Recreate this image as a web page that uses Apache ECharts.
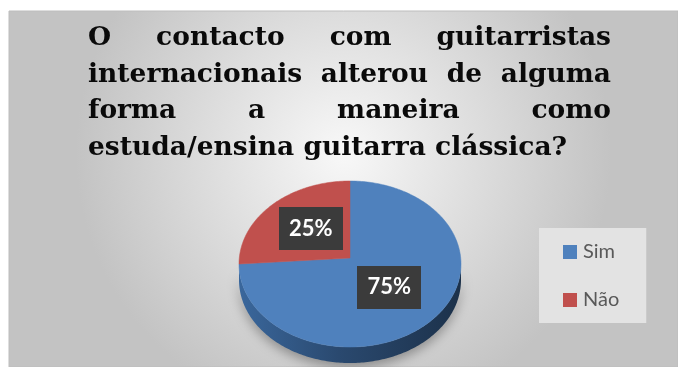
<!DOCTYPE html>
<html>
<head>
<meta charset="utf-8">
<script src="https://cdn.jsdelivr.net/npm/echarts@6/dist/echarts.min.js"></script>
<style>
  html, body { margin: 0; padding: 0; background: #ffffff; }
  #main { width: 678px; height: 367px; }
</style>
</head>
<body>
<div id="main"></div>
<script>
// Question text, one entry per printed line (all but the last are justified)
const titleLines = [
  'O contacto com guitarristas',
  'internacionais alterou de alguma',
  'forma a maneira como',
  'estuda/ensina guitarra clássica?'
];
// Answers and their shares (%)
const categories = ['Sim', 'Não'];
const values = [75, 25];
const sliceColors = ['#4f81bd', '#c0504d'];

const chart = echarts.init(document.getElementById('main'), null, { renderer: 'canvas' });

// ---- justified title built word by word ----
const TITLE_FONT = 'bold 26.5px "DejaVu Serif", serif';
const TITLE_LEFT = 88, TITLE_RIGHT = 611, TITLE_TOP = 25, TITLE_STEP = 36.4;
const measureCtx = document.createElement('canvas').getContext('2d');
measureCtx.font = TITLE_FONT;
const titleGraphics = [];
titleLines.forEach(function (line, li) {
  const words = line.split(' ');
  const widths = words.map(function (w) { return measureCtx.measureText(w).width; });
  const total = widths.reduce(function (a, b) { return a + b; }, 0);
  const last = li === titleLines.length - 1;
  const gap = (last || words.length < 2)
    ? measureCtx.measureText(' ').width
    : (TITLE_RIGHT - TITLE_LEFT - total) / (words.length - 1);
  let x = TITLE_LEFT;
  words.forEach(function (w, wi) {
    titleGraphics.push({
      type: 'text', z: 10,
      style: {
        x: x, y: TITLE_TOP + li * TITLE_STEP,
        text: w, font: TITLE_FONT, fill: '#0a0a0a',
        align: 'left', verticalAlign: 'top'
      }
    });
    x += widths[wi] + gap;
  });
});

// ---- dotted texture for the percentage boxes ----
function makePattern() {
  const c = document.createElement('canvas');
  c.width = 8; c.height = 8;
  const g = c.getContext('2d');
  g.fillStyle = '#3b3b3b'; g.fillRect(0, 0, 8, 8);
  g.fillStyle = '#4a4a4a'; g.fillRect(3, 3, 2, 2);
  return c;
}
const boxPattern = makePattern();

// ---- tilted pie geometry ----
const PIE = { cx: 350, cy: 264, rx: 111, ry: 83, apexDy: -6, depth: 16 };
const totalValue = values.reduce(function (a, b) { return a + b; }, 0);
const starts = [];
values.reduce(function (acc, v, i) { starts[i] = acc; return acc + v; }, 0);

function pt(a, dy) {
  return [PIE.cx + PIE.rx * Math.cos(a), PIE.cy + PIE.ry * Math.sin(a) + (dy || 0)];
}

function renderSlice(params, api) {
  const v = api.value(0), start = api.value(1), total = api.value(2);
  const idx = params.seriesIndex;
  const a0 = -Math.PI / 2 + 2 * Math.PI * start / total;
  const a1 = -Math.PI / 2 + 2 * Math.PI * (start + v) / total;
  const apex = [PIE.cx, PIE.cy + PIE.apexDy];
  const steps = Math.max(4, Math.ceil((a1 - a0) / (Math.PI / 180)));
  const top = [apex];
  for (let s = 0; s <= steps; s++) top.push(pt(a0 + (a1 - a0) * s / steps));
  const children = [];

  // visible rim: part of the slice lying in the front half (0..PI)
  const ranges = [];
  [0, 2 * Math.PI, -2 * Math.PI].forEach(function (off) {
    const lo = Math.max(a0, 0 + off), hi = Math.min(a1, Math.PI + off);
    if (hi > lo) ranges.push([lo, hi]);
  });
  ranges.forEach(function (r) {
    const n = Math.max(4, Math.ceil((r[1] - r[0]) / (Math.PI / 180)));
    const upper = [], lower = [];
    for (let s = 0; s <= n; s++) {
      const a = r[0] + (r[1] - r[0]) * s / n;
      upper.push(pt(a));
      lower.push(pt(a, PIE.depth));
    }
    const base = sliceColors[idx];
    children.push({
      type: 'polygon', z2: 1,
      shape: { points: upper.concat(lower.reverse()) },
      style: {
        fill: new echarts.graphic.LinearGradient(0, 0, 1, 0, [
          { offset: 0, color: echarts.color.modifyHSL(base, null, null, 0.42) },
          { offset: 0.45, color: echarts.color.modifyHSL(base, null, null, 0.30) },
          { offset: 1, color: echarts.color.modifyHSL(base, null, null, 0.20) }
        ]),
        shadowBlur: 12, shadowColor: 'rgba(0,0,0,0.35)', shadowOffsetY: 4
      }
    });
  });

  children.push({
    type: 'polygon', z2: 5,
    shape: { points: top },
    style: { fill: sliceColors[idx], stroke: sliceColors[idx], lineWidth: 0.5 }
  });

  // percentage box halfway out along the slice's middle angle
  const am = (a0 + a1) / 2;
  const lx = apex[0] + 0.5 * PIE.rx * Math.cos(am);
  const ly = apex[1] + 0.5 * PIE.ry * Math.sin(am);
  children.push({
    type: 'text', z2: 20,
    style: {
      x: lx, y: ly,
      text: Math.round(v / total * 100) + '%',
      font: 'bold 22px Lato, "Open Sans", sans-serif',
      fill: '#ffffff',
      align: 'center', verticalAlign: 'middle',
      backgroundColor: { image: boxPattern, repeat: 'repeat' },
      padding: [11, 10, 10, 10],
      boxShadowBlur: 5, boxShadowColor: 'rgba(0,0,0,0.55)',
      boxShadowOffsetX: 3, boxShadowOffsetY: 3
    }
  });
  return { type: 'group', children: children };
}

const sliceSeries = categories.map(function (name, i) {
  return {
    type: 'custom',
    name: name,
    coordinateSystem: 'none',
    itemStyle: { color: sliceColors[i] },
    data: [[values[i], starts[i], totalValue]],
    renderItem: renderSlice,
    silent: true
  };
});

chart.setOption({
  animation: false,
  backgroundColor: '#ffffff',
  graphic: [
    {
      type: 'rect', z: -10,
      shape: { x: 9, y: 11, width: 669, height: 356 },
      style: {
        fill: new echarts.graphic.RadialGradient(0.5, 0.4, 0.75, [
          { offset: 0, color: '#f8f8f8' },
          { offset: 1, color: '#c3c3c3' }
        ]),
        stroke: '#bdbdbd', lineWidth: 1
      }
    }
  ].concat(titleGraphics),
  legend: {
    left: 539, top: 228,
    orient: 'vertical',
    backgroundColor: '#e3e3e3',
    padding: [14, 27, 13, 24],
    itemGap: 28,
    itemWidth: 14, itemHeight: 14,
    icon: 'rect',
    data: categories.map(function (c, i) {
      return { name: c, itemStyle: { color: sliceColors[i] } };
    }),
    textStyle: {
      fontFamily: 'Lato, "Open Sans", sans-serif',
      fontSize: 20, lineHeight: 20, color: '#595959', padding: [0, 0, 0, 1]
    },
    selectedMode: false
  },
  series: sliceSeries
});
</script>
</body>
</html>
